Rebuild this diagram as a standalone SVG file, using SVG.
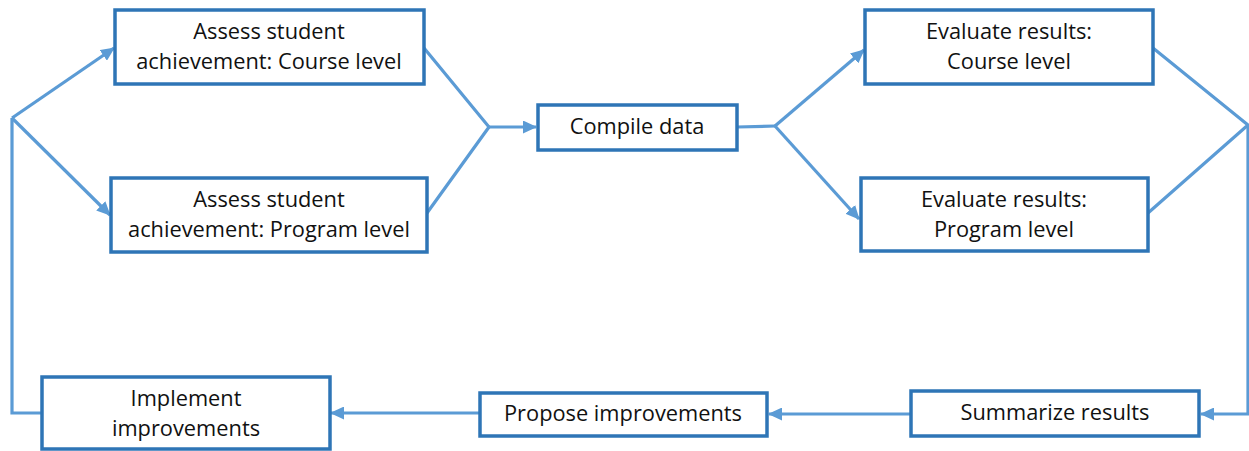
<svg xmlns="http://www.w3.org/2000/svg" width="1249" height="451" viewBox="0 0 1249 451">
<style>
.box{fill:#fff;stroke:#2E75B6;stroke-width:3.5}
.c{fill:none;stroke:#5B9BD5;stroke-width:3.2;stroke-linejoin:miter}
text{font-family:"Open Sans","Liberation Sans",Arial,sans-serif;font-size:21.8px;fill:#111;text-anchor:middle}
</style>
<defs>
<marker id="ah" markerUnits="userSpaceOnUse" markerWidth="15" markerHeight="13" refX="13" refY="6.5" orient="auto">
<path d="M0,0 L14,6.5 L0,13 z" fill="#5B9BD5"/>
</marker>
</defs>
<rect width="1249" height="451" fill="#fff"/>
<g id="connectors">
<polyline class="c" points="42,413 12,413 12,118"/>
<line class="c" x1="12" y1="118" x2="114" y2="48" marker-end="url(#ah)"/>
<line class="c" x1="12" y1="118" x2="110" y2="215" marker-end="url(#ah)"/>
<polyline class="c" points="424,48 489,127 427,213"/>
<line class="c" x1="489" y1="127" x2="536" y2="127" marker-end="url(#ah)"/>
<polyline class="c" points="737,127 775,126"/>
<line class="c" x1="775" y1="126" x2="864" y2="50" marker-end="url(#ah)"/>
<line class="c" x1="775" y1="126" x2="859" y2="219" marker-end="url(#ah)"/>
<polyline class="c" points="1153,48 1248,125 1148,213"/>
<polyline class="c" points="1248,125 1248,414 1201,414" marker-end="url(#ah)"/>
<line class="c" x1="911" y1="414" x2="769" y2="414" marker-end="url(#ah)"/>
<line class="c" x1="480" y1="413" x2="331" y2="413" marker-end="url(#ah)"/>
</g>
<g id="n1"><rect class="box" x="115" y="10" width="309" height="74"/><text x="269" y="39">Assess student</text><text x="269" y="69">achievement: Course level</text></g>
<g id="n2"><rect class="box" x="111" y="178" width="316" height="74"/><text x="269" y="207">Assess student</text><text x="269" y="237">achievement: Program level</text></g>
<g id="n3"><rect class="box" x="538" y="105" width="199" height="45"/><text x="637" y="134">Compile data</text></g>
<g id="n4"><rect class="box" x="865" y="10" width="288" height="74"/><text x="1009" y="39">Evaluate results:</text><text x="1009" y="69">Course level</text></g>
<g id="n5"><rect class="box" x="861" y="178" width="287" height="73"/><text x="1004" y="207">Evaluate results:</text><text x="1004" y="237">Program level</text></g>
<g id="n6"><rect class="box" x="911" y="391" width="288" height="45"/><text x="1055" y="420">Summarize results</text></g>
<g id="n7"><rect class="box" x="480" y="393" width="287" height="43"/><text x="623" y="421">Propose improvements</text></g>
<g id="n8"><rect class="box" x="42" y="377" width="288" height="72"/><text x="186" y="406">Implement</text><text x="186" y="436">improvements</text></g>
</svg>
